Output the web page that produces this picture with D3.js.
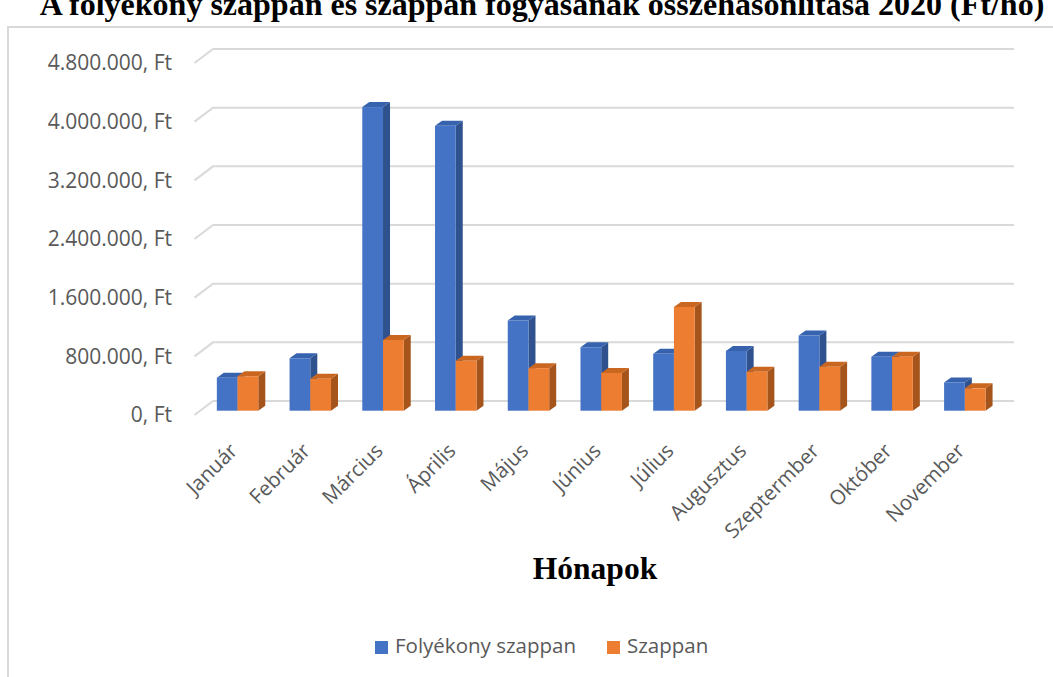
<!DOCTYPE html>
<html>
<head>
<meta charset="utf-8">
<script src="https://cdn.jsdelivr.net/npm/d3@7"></script>
<style>
  html, body { margin: 0; padding: 0; background: #fff; }
  svg { display: block; }
</style>
</head>
<body>
<svg id="chart" width="1053" height="677"></svg>
<script>
// Monthly sales of liquid soap vs. bar soap, 2020 (HUF)
const months = ["Január", "Február", "Március", "Április", "Május", "Június",
                "Július", "Augusztus", "Szeptermber", "Október", "November"];
const folyekony = [450000, 715000, 4140000, 3885000, 1230000, 865000,
                   775000, 815000, 1025000, 735000, 385000];
const szappan = [470000, 435000, 965000, 680000, 580000, 515000,
                 1415000, 530000, 600000, 735000, 305000];
const seriesNames = ["Folyékony szappan", "Szappan"];
const yTicks = [0, 800000, 1600000, 2400000, 3200000, 4000000, 4800000];
const titleText = "A folyékony szappan és szappan fogyásának összehasonlítása 2020 (Ft/hó)";
const axisTitle = "Hónapok";

const colors = {
  front: ["#4472C4", "#ED7D31"],
  side:  ["#2F528F", "#A5541C"],
  top:   ["#3662AE", "#C9661F"]
};

const svg = d3.select("#chart");
const fontSans = "'Open Sans', 'Liberation Sans', sans-serif";
const fontSerif = "'Liberation Serif', 'Times New Roman', serif";

// Chart area frame
svg.append("rect")
  .attr("x", 8).attr("y", 27).attr("width", 1100).attr("height", 700)
  .attr("fill", "#fff").attr("stroke", "#d9d9d9").attr("stroke-width", 2);

// Title (its upper part runs past the top edge of the page)
svg.append("text")
  .attr("x", 542).attr("y", 15)
  .attr("text-anchor", "middle")
  .attr("font-family", fontSerif).attr("font-weight", "bold").attr("font-size", 32)
  .attr("fill", "#000")
  .text(titleText);

// Back wall scales; floor depth runs from back wall toward the viewer
const y = d3.scaleLinear().domain([0, 4800000]).range([401, 49]);
const x = d3.scaleBand().domain(months).range([214, 1014])
  .paddingInner(0.43).paddingOuter(0.215);
const xSeries = d3.scaleBand().domain([0, 1]).range([0, x.bandwidth()]);

const wallDepth = { dx: -18.5, dy: 14 };   // back wall -> front edge of floor
const barFront = { dx: -12.8, dy: 9.7 };   // back wall -> front face of bars
const barDepth = { dx: 7, dy: -5 };        // front face -> back face of bars

// Gridlines: diagonal along the side wall, then along the back wall
const grid = svg.append("g");
yTicks.forEach(t => {
  const yb = y(t);
  const xb = x.range()[0] - 1;
  grid.append("polyline")
    .attr("points", [
      [xb + wallDepth.dx, yb + wallDepth.dy],
      [xb, yb],
      [x.range()[1], yb]
    ].map(p => p.join(",")).join(" "))
    .attr("fill", "none").attr("stroke", "#d9d9d9").attr("stroke-width", 2);
});

// Value axis labels
const fmt = v => d3.format(",")(v).replace(/,/g, ".") + ", Ft";
svg.append("g").selectAll("text")
  .data(yTicks).join("text")
  .attr("x", 172)
  .attr("y", d => y(d) + wallDepth.dy)
  .attr("dy", "0.35em")
  .attr("text-anchor", "end")
  .attr("font-family", fontSans).attr("font-size", 21).attr("fill", "#595959")
  .text(fmt);

// 3D columns
const rows = months.map((m, i) => ({ month: m, values: [folyekony[i], szappan[i]] }));
const bars = svg.append("g");
rows.forEach(r => {
  r.values.forEach((v, s) => {
    const x0 = x(r.month) + xSeries(s) + barFront.dx;
    const x1 = x0 + xSeries.bandwidth();
    const yTop = y(v) + barFront.dy;
    const yBot = y(0) + barFront.dy;
    const g = bars.append("g");
    // side face
    g.append("polygon")
      .attr("points", [[x1, yTop], [x1 + barDepth.dx, yTop + barDepth.dy],
                       [x1 + barDepth.dx, yBot + barDepth.dy], [x1, yBot]]
        .map(p => p.join(",")).join(" "))
      .attr("fill", colors.side[s]);
    // top face
    g.append("polygon")
      .attr("points", [[x0, yTop], [x1, yTop], [x1 + barDepth.dx, yTop + barDepth.dy],
                       [x0 + barDepth.dx, yTop + barDepth.dy]]
        .map(p => p.join(",")).join(" "))
      .attr("fill", colors.top[s]);
    // front face
    g.append("rect")
      .attr("x", x0).attr("y", yTop)
      .attr("width", x1 - x0).attr("height", yBot - yTop)
      .attr("fill", colors.front[s]);
  });
});

// Category labels, rotated
svg.append("g").selectAll("text")
  .data(months).join("text")
  .attr("transform", d => {
    const cx = x(d) + x.bandwidth() / 2 + barFront.dx - 4;
    return `translate(${cx},447) rotate(-45)`;
  })
  .attr("text-anchor", "end")
  .attr("dy", "0.35em")
  .attr("font-family", fontSans).attr("font-size", 20.5).attr("fill", "#595959")
  .text(d => d);

// Axis title
svg.append("text")
  .attr("x", 595).attr("y", 579)
  .attr("text-anchor", "middle")
  .attr("font-family", fontSerif).attr("font-weight", "bold").attr("font-size", 31.5)
  .attr("fill", "#000")
  .text(axisTitle);

// Legend
const legend = svg.append("g");
const legendX = [375, 607];
seriesNames.forEach((name, s) => {
  legend.append("rect")
    .attr("x", legendX[s]).attr("y", 641)
    .attr("width", 13).attr("height", 13)
    .attr("fill", colors.front[s]);
  legend.append("text")
    .attr("x", legendX[s] + 20).attr("y", 653)
    .attr("font-family", fontSans).attr("font-size", 20.5).attr("fill", "#595959")
    .text(name);
});
</script>
</body>
</html>
